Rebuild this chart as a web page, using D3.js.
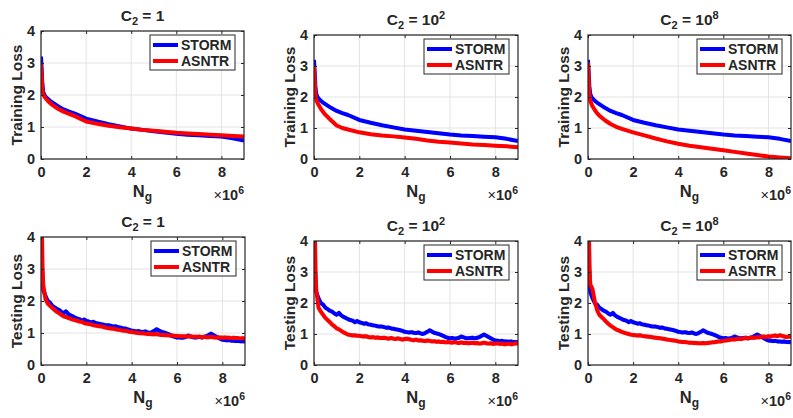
<!DOCTYPE html>
<html>
<head>
<meta charset="utf-8">
<script src="https://cdnjs.cloudflare.com/ajax/libs/d3/7.8.5/d3.min.js"></script>
<style>
  body { margin: 0; background: #fff; }
  svg { display: block; }
  text { font-family: "Liberation Sans", Arial, sans-serif; font-weight: bold; fill: #262626; }
</style>
</head>
<body>
<svg id="svg" width="793" height="418"></svg>
<script>

// ---- data ----
var xTicks = [0, 2, 4, 6, 8];
var yTicks = [0, 1, 2, 3, 4];
var seriesNames = ["STORM", "ASNTR"];
var c2Labels = ["1", "10|2", "10|8"];

// training loss, sampled at trainX (x in units of 1e6)
var trainX = [0, 0.03, 0.06, 0.1, 0.15, 0.2, 0.3, 0.4, 0.5, 0.75, 1, 1.25, 1.5, 2, 2.5, 3, 3.5, 4, 4.5, 5, 5.5, 6, 6.5, 7, 7.5, 8, 8.5, 9];
var stormTrain   = [3.2, 2.8, 2.35, 2.1, 2.0, 1.95, 1.88, 1.82, 1.77, 1.65, 1.55, 1.48, 1.42, 1.26, 1.17, 1.09, 1.02, 0.95, 0.91, 0.87, 0.83, 0.79, 0.76, 0.74, 0.72, 0.7, 0.65, 0.58];
var asntrTrain1  = [2.95, 2.6, 2.2, 2.02, 1.95, 1.9, 1.82, 1.75, 1.69, 1.57, 1.48, 1.41, 1.34, 1.17, 1.1, 1.04, 0.99, 0.95, 0.91, 0.88, 0.85, 0.82, 0.8, 0.78, 0.76, 0.74, 0.72, 0.7];
var asntrTrain2  = [3.0, 2.6, 2.1, 1.9, 1.82, 1.75, 1.62, 1.52, 1.43, 1.25, 1.08, 1.0, 0.95, 0.86, 0.8, 0.76, 0.73, 0.69, 0.65, 0.6, 0.56, 0.53, 0.5, 0.47, 0.45, 0.43, 0.41, 0.38];
var asntrTrain8  = [3.1, 2.6, 2.1, 1.88, 1.78, 1.7, 1.58, 1.48, 1.4, 1.25, 1.13, 1.04, 0.97, 0.86, 0.76, 0.66, 0.57, 0.49, 0.43, 0.38, 0.33, 0.28, 0.23, 0.18, 0.13, 0.08, 0.05, 0.02];

// testing loss, sampled at testX (three early points, then every 0.1)
var testX = [0, 0.04, 0.07].concat(d3.range(1, 91).map(function(i){ return i / 10; }));
var stormTest = [4.6, 3.2, 2.6,
  2.35, 2.15, 2.0, 1.95, 1.85, 1.8, 1.75, 1.72, 1.66, 1.62,
  1.68, 1.6, 1.55, 1.52, 1.48, 1.45, 1.43, 1.38, 1.42, 1.38,
  1.36, 1.33, 1.35, 1.31, 1.3, 1.28, 1.27, 1.25, 1.24, 1.24,
  1.22, 1.2, 1.21, 1.18, 1.17, 1.15, 1.14, 1.12, 1.1, 1.07,
  1.06, 1.05, 1.06, 1.04, 1.03, 1.05, 1.02, 1.0, 1.03, 1.07,
  1.12, 1.08, 1.04, 1.02, 1.0, 0.97, 0.94, 0.9, 0.88, 0.86,
  0.87, 0.85, 0.86, 0.88, 0.92, 0.89, 0.87, 0.86, 0.87, 0.88,
  0.86, 0.88, 0.9, 0.94, 0.98, 0.94, 0.9, 0.86, 0.82, 0.79,
  0.78, 0.77, 0.78, 0.76, 0.76, 0.75, 0.76, 0.74, 0.74, 0.73];
var asntrTest1 = [4.6, 4.2, 3.0,
  2.5, 2.05, 1.92, 1.85, 1.78, 1.72, 1.66, 1.62, 1.57, 1.52,
  1.5, 1.47, 1.45, 1.42, 1.4, 1.38, 1.36, 1.35, 1.31, 1.3,
  1.28, 1.27, 1.25, 1.23, 1.22, 1.21, 1.2, 1.18, 1.16, 1.15,
  1.14, 1.13, 1.12, 1.1, 1.09, 1.08, 1.07, 1.06, 1.04, 1.03,
  1.02, 1.01, 1.0, 0.99, 0.99, 0.98, 0.97, 0.97, 0.96, 0.96,
  0.97, 0.95, 0.94, 0.94, 0.93, 0.93, 0.92, 0.92, 0.91, 0.91,
  0.9, 0.9, 0.9, 0.89, 0.9, 0.89, 0.88, 0.88, 0.88, 0.88,
  0.87, 0.88, 0.87, 0.87, 0.88, 0.87, 0.86, 0.86, 0.86, 0.85,
  0.86, 0.85, 0.85, 0.84, 0.85, 0.84, 0.84, 0.83, 0.84, 0.83];
var asntrTest2 = [4.6, 4.2, 3.0,
  2.4, 1.85, 1.72, 1.62, 1.52, 1.45, 1.38, 1.3, 1.25, 1.18,
  1.15, 1.1, 1.05, 1.02, 0.98, 0.97, 0.95, 0.96, 0.94, 0.94,
  0.93, 0.92, 0.93, 0.9, 0.89, 0.9, 0.88, 0.89, 0.87, 0.87,
  0.88, 0.86, 0.85, 0.87, 0.85, 0.84, 0.86, 0.84, 0.82, 0.84,
  0.85, 0.83, 0.81, 0.8, 0.82, 0.79, 0.8, 0.78, 0.77, 0.79,
  0.78, 0.76, 0.77, 0.75, 0.76, 0.74, 0.75, 0.73, 0.74, 0.73,
  0.72, 0.74, 0.72, 0.71, 0.73, 0.71, 0.72, 0.7, 0.71, 0.72,
  0.7, 0.71, 0.69, 0.7, 0.72, 0.7, 0.69, 0.7, 0.68, 0.69,
  0.7, 0.68, 0.69, 0.67, 0.68, 0.69, 0.67, 0.68, 0.7, 0.69];
var asntrTest8 = [4.6, 4.2, 3.2,
  2.6, 2.45, 2.05, 1.78, 1.62, 1.55, 1.48, 1.4, 1.33, 1.27,
  1.22, 1.17, 1.13, 1.1, 1.07, 1.04, 1.02, 1.0, 0.98, 0.97,
  0.96, 0.95, 0.96, 0.94, 0.93, 0.92, 0.91, 0.9, 0.89, 0.88,
  0.87, 0.86, 0.85, 0.84, 0.82, 0.81, 0.8, 0.79, 0.78, 0.76,
  0.75, 0.74, 0.74, 0.73, 0.72, 0.72, 0.71, 0.71, 0.7, 0.7,
  0.71, 0.7, 0.71, 0.72, 0.73, 0.73, 0.75, 0.76, 0.76, 0.78,
  0.79, 0.8, 0.81, 0.83, 0.82, 0.84, 0.85, 0.84, 0.86, 0.87,
  0.86, 0.88, 0.89, 0.88, 0.9, 0.89, 0.91, 0.92, 0.9, 0.93,
  0.92, 0.94, 0.95, 0.93, 0.96, 0.94, 0.92, 0.9, 0.91, 0.92];

// ---- layout ----
var svg = d3.select("#svg");
var colors = ["#0000ff", "#ff0000"];

var panels = [
  {l: 41,  t: 31,  r: 244, b: 159, c2: c2Labels[0], ylab: "Training Loss", xs: trainX, ys: [stormTrain, asntrTrain1], band: 0.05},
  {l: 314, t: 35,  r: 518, b: 159, c2: c2Labels[1], ylab: "Training Loss", xs: trainX, ys: [stormTrain, asntrTrain2], band: 0.05},
  {l: 588, t: 35,  r: 791, b: 159, c2: c2Labels[2], ylab: "Training Loss", xs: trainX, ys: [stormTrain, asntrTrain8], band: 0.05},
  {l: 41,  t: 237, r: 245, b: 365, c2: c2Labels[0], ylab: "Testing Loss",  xs: testX,  ys: [stormTest, asntrTest1], band: 0.07},
  {l: 314, t: 241, r: 518, b: 365, c2: c2Labels[1], ylab: "Testing Loss",  xs: testX,  ys: [stormTest, asntrTest2], band: 0.07},
  {l: 588, t: 241, r: 791, b: 365, c2: c2Labels[2], ylab: "Testing Loss",  xs: testX,  ys: [stormTest, asntrTest8], band: 0.07}
];

panels.forEach(function(p, i){ drawPanel(p, i); });

function styleAxis(g, fs){
  g.attr("font-family", null).attr("font-size", null);
  g.select(".domain").remove();
  g.selectAll(".tick line").attr("stroke", "#262626");
  g.selectAll(".tick text").style("font-size", fs + "px");
}

function drawPanel(p, i){
  var x = d3.scaleLinear().domain([0, 9]).range([p.l, p.r]);
  var y = d3.scaleLinear().domain([0, 4]).range([p.b, p.t]);
  var g = svg.append("g");
  var fmt = d3.format("d");

  // grid
  g.selectAll(".gx").data(xTicks).enter().append("line")
    .attr("x1", function(d){ return x(d); }).attr("x2", function(d){ return x(d); })
    .attr("y1", p.t).attr("y2", p.b)
    .attr("stroke", "#e3e3e3").attr("stroke-width", 1);
  g.selectAll(".gy").data(yTicks).enter().append("line")
    .attr("y1", function(d){ return y(d); }).attr("y2", function(d){ return y(d); })
    .attr("x1", p.l).attr("x2", p.r)
    .attr("stroke", "#e3e3e3").attr("stroke-width", 1);

  svg.append("clipPath").attr("id", "clip" + i).append("rect")
    .attr("x", p.l).attr("y", p.t).attr("width", p.r - p.l).attr("height", p.b - p.t);
  var plot = g.append("g").attr("clip-path", "url(#clip" + i + ")");

  var area = d3.area()
    .x(function(d, j){ return x(p.xs[j]); })
    .y0(function(d){ return y(d - p.band); })
    .y1(function(d){ return y(d + p.band); });
  var line = d3.line()
    .x(function(d, j){ return x(p.xs[j]); })
    .y(function(d){ return y(d); });

  p.ys.forEach(function(v){
    plot.append("path").attr("d", area(v)).attr("fill", "#9a9a9a").attr("opacity", 0.5);
  });
  p.ys.forEach(function(v, k){
    plot.append("path").attr("d", line(v))
      .attr("fill", "none").attr("stroke", colors[k]).attr("stroke-width", 4)
      .attr("stroke-linejoin", "round");
  });

  // axes, ticks inward
  g.append("g").attr("transform", "translate(0," + p.b + ")")
    .call(d3.axisBottom(x).tickValues(xTicks).tickFormat(fmt).tickSize(-3).tickPadding(8))
    .call(function(a){ styleAxis(a, 14.5); });
  g.append("g").attr("transform", "translate(" + p.l + ",0)")
    .call(d3.axisLeft(y).tickValues(yTicks).tickFormat(fmt).tickSize(-3).tickPadding(6))
    .call(function(a){ styleAxis(a, 14.5); });
  g.append("g").attr("transform", "translate(0," + p.t + ")")
    .call(d3.axisTop(x).tickValues(xTicks).tickSize(-3).tickFormat(""))
    .call(function(a){ styleAxis(a, 14); });
  g.append("g").attr("transform", "translate(" + p.r + ",0)")
    .call(d3.axisRight(y).tickValues(yTicks).tickSize(-3).tickFormat(""))
    .call(function(a){ styleAxis(a, 14); });

  g.append("rect")
    .attr("x", p.l).attr("y", p.t).attr("width", p.r - p.l).attr("height", p.b - p.t)
    .attr("fill", "none").attr("stroke", "#262626").attr("stroke-width", 1.2);

  // title C_2 = ...
  var cx = (p.l + p.r) / 2;
  var tt = svg.append("text").attr("x", cx).attr("y", p.t - 10.5)
    .attr("text-anchor", "middle").style("font-size", "15.5px");
  tt.append("tspan").text("C");
  tt.append("tspan").text("2").attr("dy", 4).style("font-size", "11px");
  var parts = p.c2.split("|");
  tt.append("tspan").text(" = " + parts[0]).attr("dy", -4);
  if (parts[1]) tt.append("tspan").text(parts[1]).attr("dy", -6).style("font-size", "11px");

  // y label
  svg.append("text")
    .attr("transform", "translate(" + (p.l - 19) + "," + ((p.t + p.b) / 2) + ") rotate(-90)")
    .attr("text-anchor", "middle").style("font-size", "15.5px")
    .text(p.ylab);

  // x label N_g
  var xl = svg.append("text").attr("x", cx).attr("y", p.b + 38)
    .attr("text-anchor", "middle").style("font-size", "16.5px");
  xl.append("tspan").text("N");
  xl.append("tspan").text("g").attr("dy", 4).style("font-size", "12px");

  // exponent x10^6
  var ex = svg.append("text").attr("x", p.r).attr("y", p.b + 41)
    .attr("text-anchor", "end").style("font-size", "14.5px");
  ex.append("tspan").text("\u00d7").style("font-weight", "normal");
  ex.append("tspan").text("10");
  ex.append("tspan").text("6").attr("dy", -6).style("font-size", "10.5px");

  // legend
  var lw = 85, lh = 35;
  var lx = p.r - 9 - lw, ly = p.t + 4;
  var lg = svg.append("g").attr("transform", "translate(" + lx + "," + ly + ")");
  lg.append("rect").attr("width", lw).attr("height", lh)
    .attr("fill", "#fff").attr("stroke", "#262626").attr("stroke-width", 1);
  seriesNames.forEach(function(name, k){
    var yy = 10 + k * 16;
    lg.append("line").attr("x1", 3).attr("x2", 28).attr("y1", yy).attr("y2", yy)
      .attr("stroke", colors[k]).attr("stroke-width", 4);
    lg.append("text").attr("x", 31).attr("y", yy).attr("dy", "0.35em")
      .style("font-size", "14px").text(name);
  });
}
</script>
</body>
</html>
